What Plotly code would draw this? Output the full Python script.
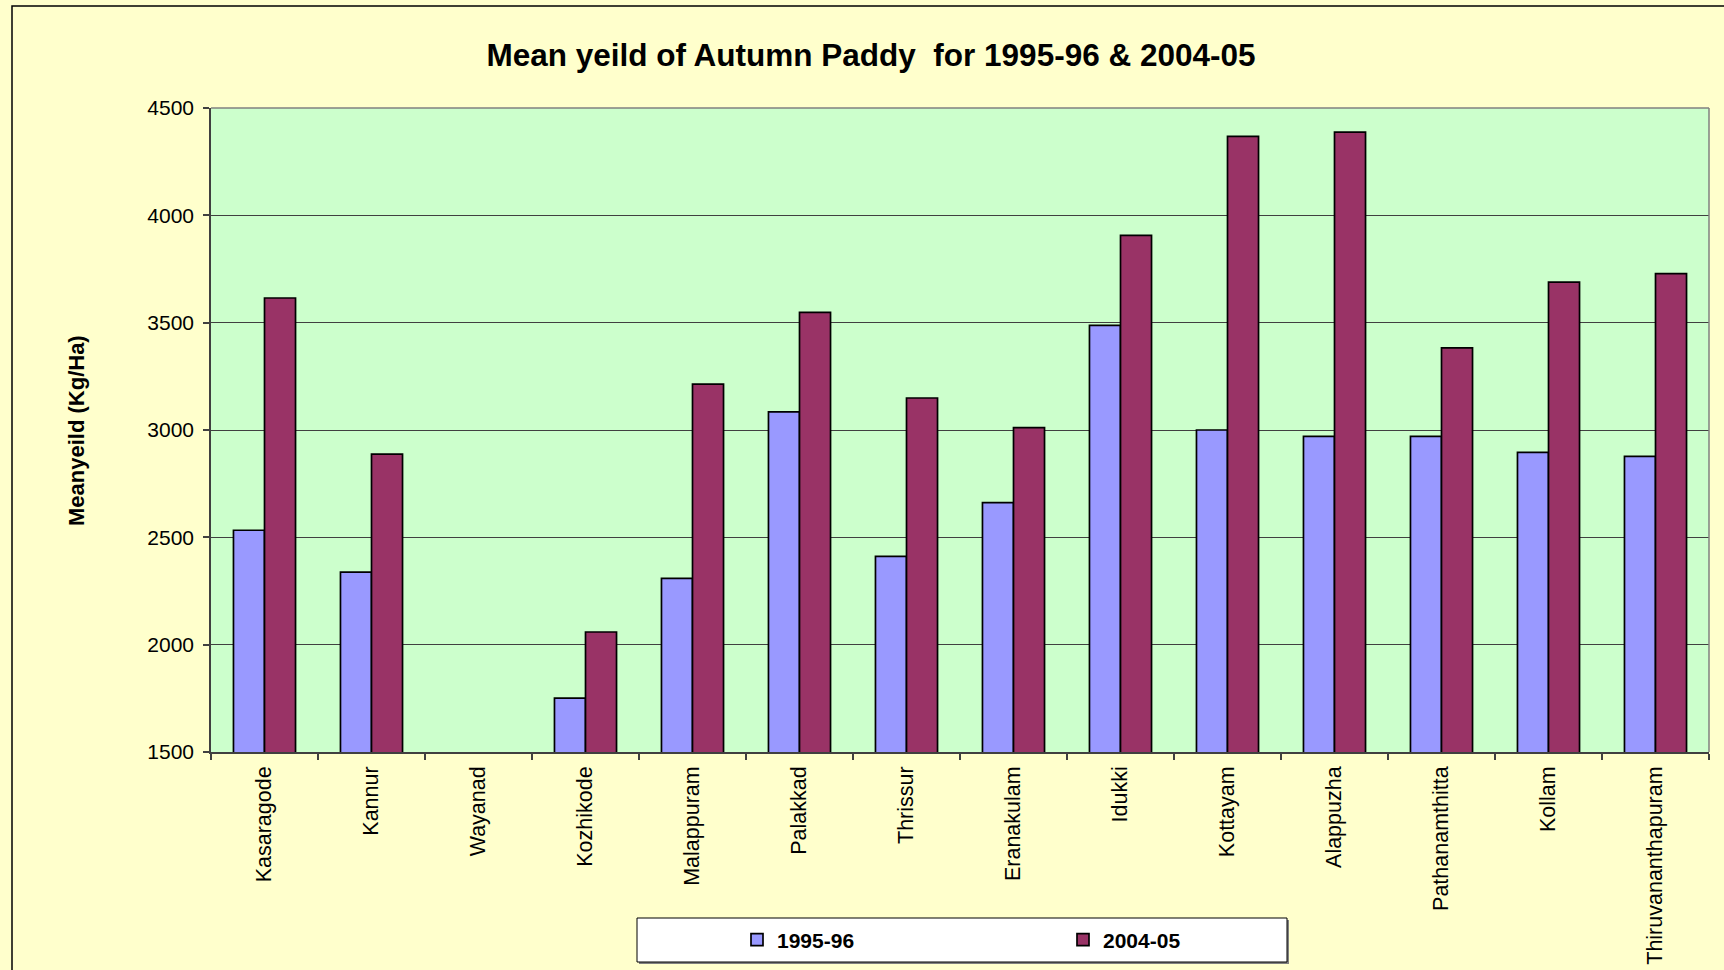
import plotly.graph_objects as go

# Districts of Kerala, north to south
districts = [
    "Kasaragode", "Kannur", "Wayanad", "Kozhikode", "Malappuram", "Palakkad",
    "Thrissur", "Eranakulam", "Idukki", "Kottayam", "Alappuzha",
    "Pathanamthitta", "Kollam", "Thiruvananthapuram",
]

# Mean yield of autumn paddy (Kg/Ha); Wayanad has no reported value
yield_1995_96 = [2533, 2338, None, 1751, 2309, 3084, 2411, 2662, 3487, 3000, 2970, 2970, 2896, 2877]
yield_2004_05 = [3615, 2888, None, 2059, 3214, 3548, 3149, 3011, 3907, 4368, 4388, 3383, 3689, 3728]

y_ticks = [1500, 2000, 2500, 3000, 3500, 4000, 4500]

FONT = "Arial, 'Liberation Sans', sans-serif"
W, H = 1724, 970
L, R, T, B = 211, 15, 108, 218
PW, PH = W - L - R, H - T - B


def px_x(x):
    return (x - L) / PW


def px_y(y):
    return (H - B - y) / PH


fig = go.Figure()
fig.add_trace(go.Bar(
    name="1995-96", x=districts, y=yield_1995_96,
    marker=dict(color="#9999FF", line=dict(color="#000000", width=1.7)),
))
fig.add_trace(go.Bar(
    name="2004-05", x=districts, y=yield_2004_05,
    marker=dict(color="#993366", line=dict(color="#000000", width=1.7)),
))

shapes = [
    # outer chart frame
    dict(type="rect", xref="paper", yref="paper",
         x0=px_x(12), x1=px_x(1740), y0=px_y(990), y1=px_y(6),
         line=dict(color="#000000", width=1.5), fillcolor="rgba(0,0,0,0)", layer="below"),
    # plot area border (top and right)
    dict(type="line", xref="paper", yref="paper", x0=0, x1=1, y0=1, y1=1,
         line=dict(color="#808080", width=1.5)),
    dict(type="line", xref="paper", yref="paper", x0=1, x1=1, y0=0, y1=1,
         line=dict(color="#808080", width=1.5)),
    # legend box with drop shadow
    dict(type="rect", xref="paper", yref="paper",
         x0=px_x(639), x1=px_x(1289), y0=px_y(964), y1=px_y(920),
         line=dict(width=0), fillcolor="#808080", layer="below"),
    dict(type="rect", xref="paper", yref="paper",
         x0=px_x(637), x1=px_x(1287), y0=px_y(962), y1=px_y(918),
         line=dict(color="#000000", width=1), fillcolor="#FFFFFF", layer="below"),
]

fig.update_layout(
    width=W, height=H,
    margin=dict(l=L, r=R, t=T, b=B, pad=0),
    paper_bgcolor="#FFFFCC",
    plot_bgcolor="#CCFFCC",
    font=dict(family=FONT, size=21, color="#000000"),
    barmode="group",
    bargap=0.42,
    bargroupgap=0,
    title=dict(
        text="<b>Mean yeild of Autumn Paddy  for 1995-96 & 2004-05</b>",
        x=871 / W, xanchor="center",
        y=1 - 55 / H, yanchor="middle", yref="container",
        font=dict(family=FONT, size=31.5, color="#000000"),
    ),
    xaxis=dict(
        type="category",
        tickangle=-90,
        tickfont=dict(family=FONT, size=21.5, color="#000000"),
        ticks="outside", ticklen=6, tickcolor="#404040", tickwidth=1.5,
        tickson="boundaries",
        ticklabelstandoff=4,
        showline=True, linecolor="#404040", linewidth=1.5,
        showgrid=False,
        automargin=False,
    ),
    yaxis=dict(
        range=[1500, 4500],
        tickvals=y_ticks,
        tickfont=dict(family=FONT, size=21, color="#000000"),
        ticks="outside", ticklen=6, tickcolor="#404040", tickwidth=1.5,
        ticklabelstandoff=5,
        showline=True, linecolor="#404040", linewidth=1.5,
        showgrid=True, gridcolor="#404040", gridwidth=1,
        zeroline=False,
        automargin=False,
    ),
    legend=dict(
        orientation="h",
        xref="container", yref="container",
        x=737 / W, xanchor="left",
        y=1 - 940 / H, yanchor="middle",
        bgcolor="rgba(0,0,0,0)", borderwidth=0,
        entrywidth=281,
        font=dict(family=FONT, size=21, color="#000000", weight="bold"),
        traceorder="normal",
    ),
    shapes=shapes,
    annotations=[
        dict(
            text="<b>Meanyeild (Kg/Ha)</b>",
            xref="paper", yref="paper",
            x=px_x(76), y=px_y(431),
            xanchor="center", yanchor="middle",
            textangle=-90, showarrow=False,
            font=dict(family=FONT, size=22, color="#000000"),
        )
    ],
)

fig.write_html("out.html")
